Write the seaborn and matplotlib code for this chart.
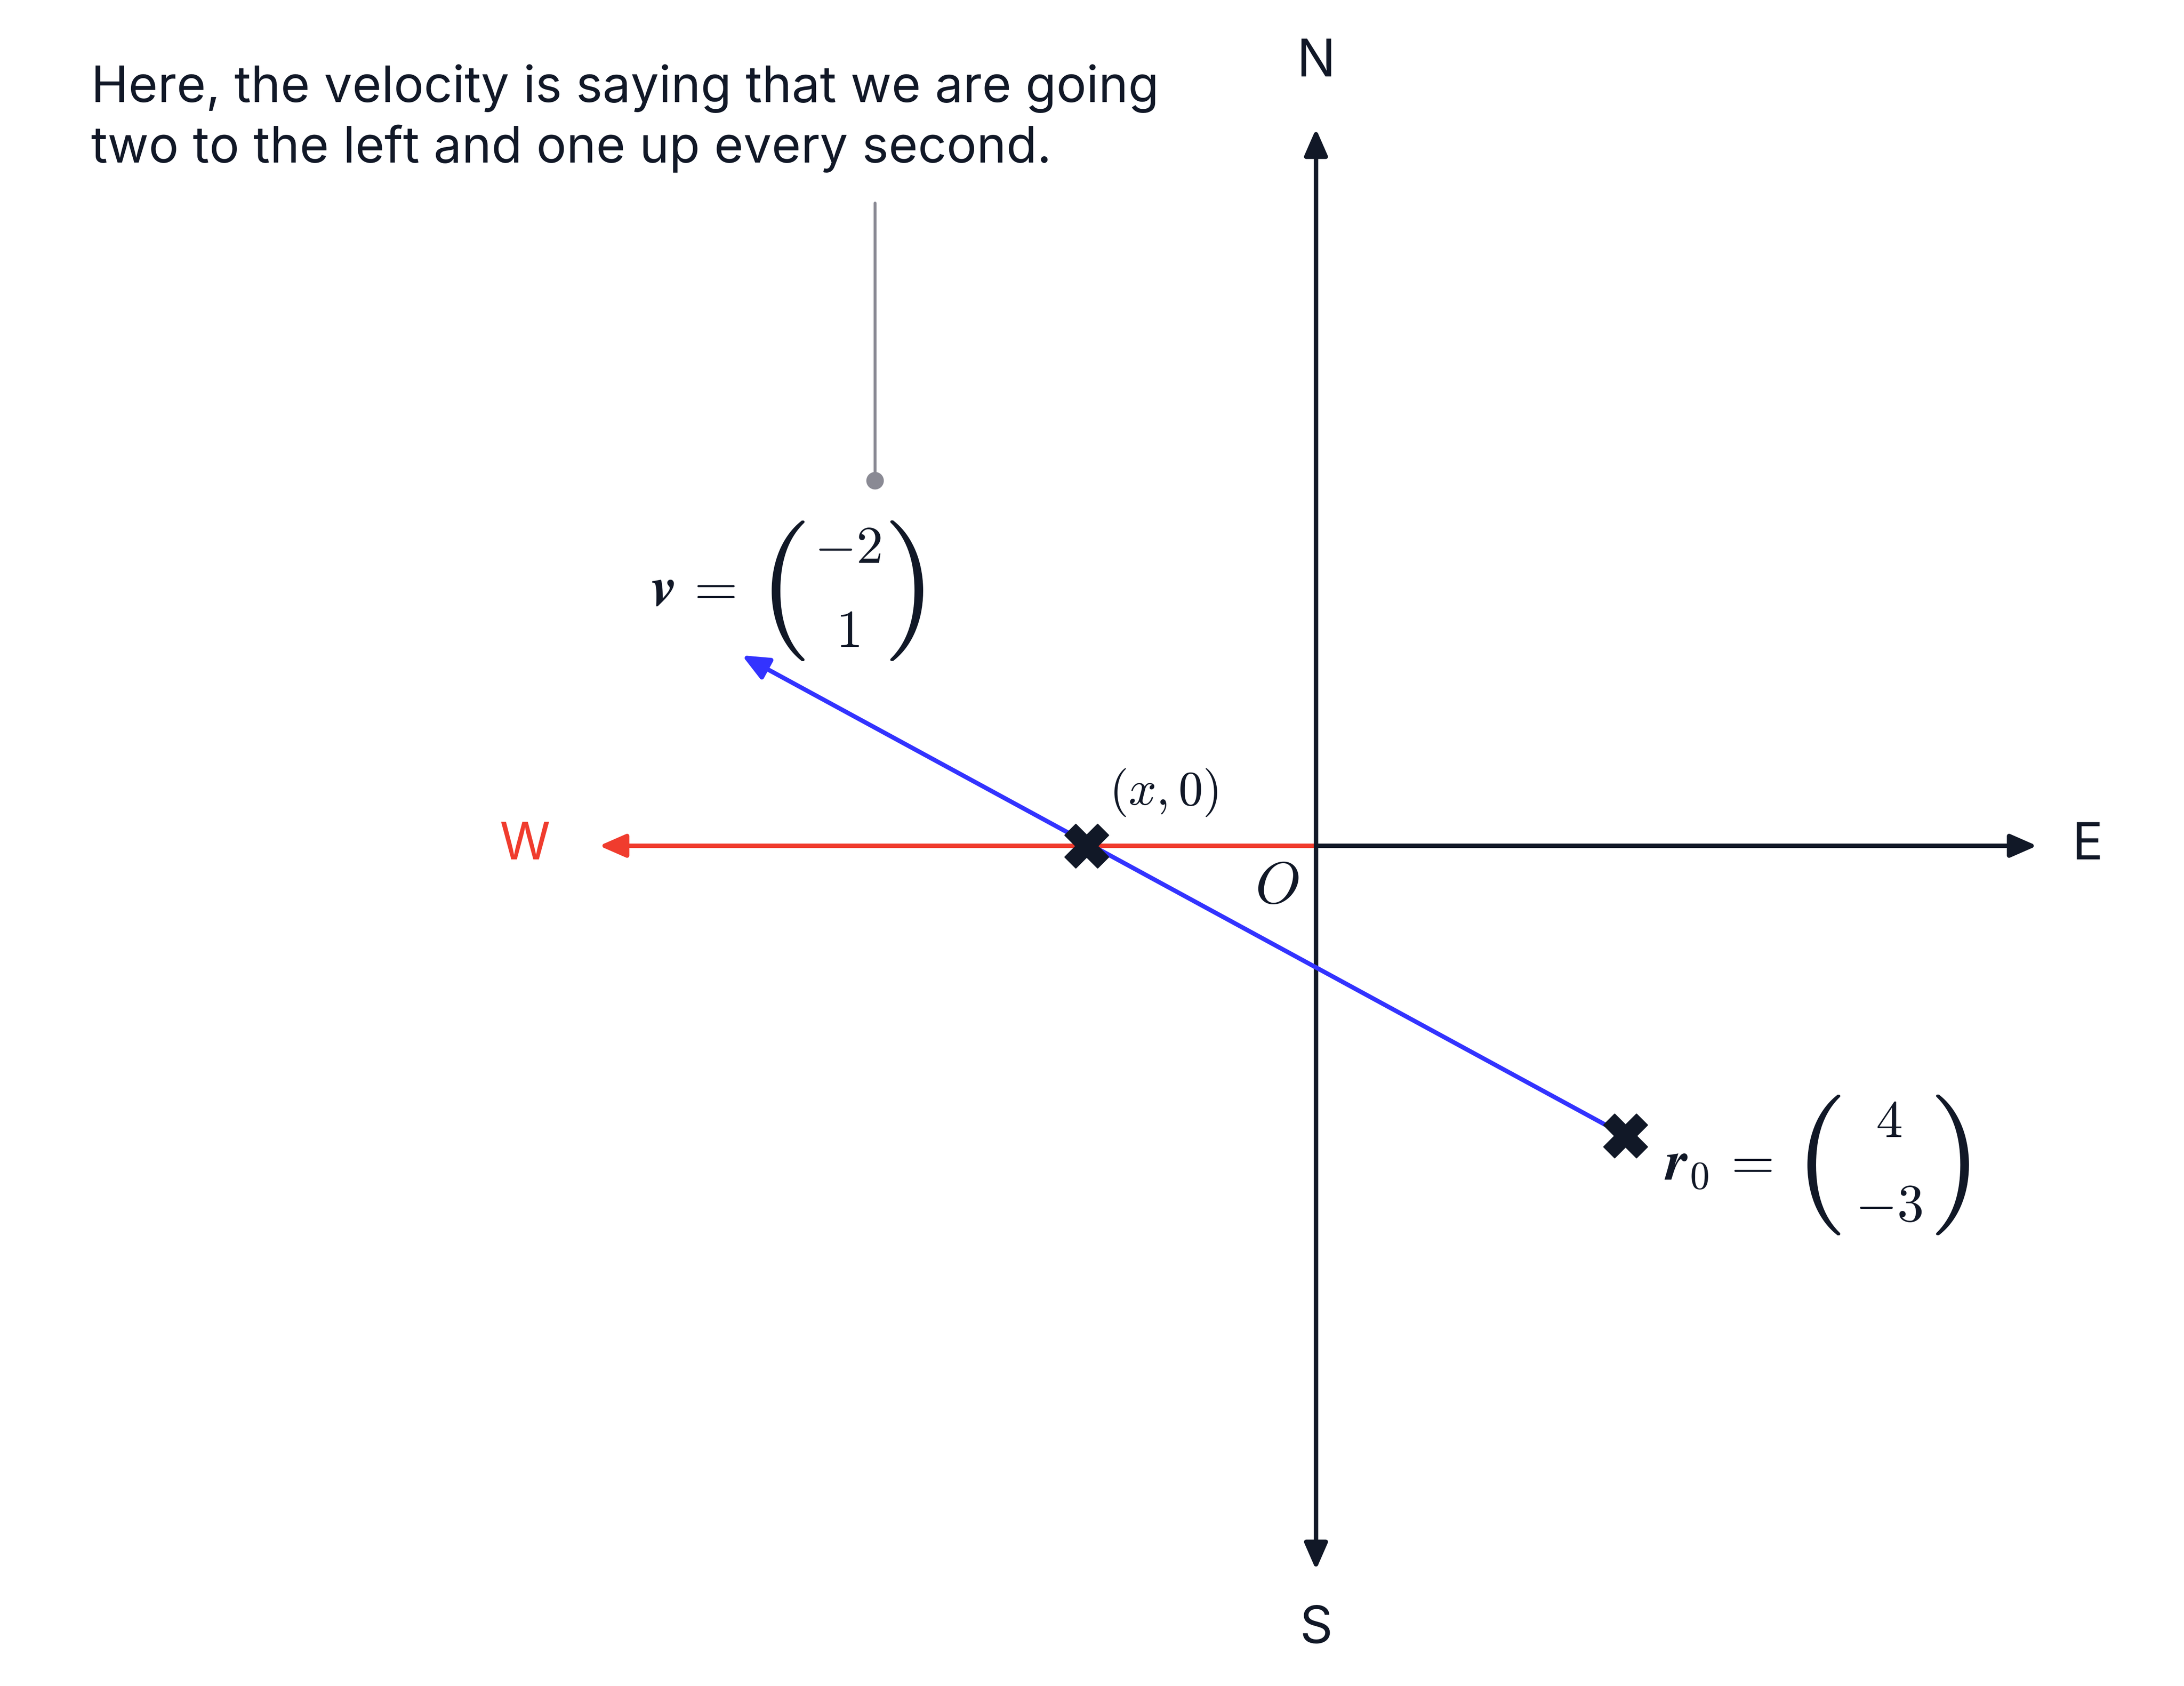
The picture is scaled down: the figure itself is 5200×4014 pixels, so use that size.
import matplotlib
matplotlib.use("Agg")
import matplotlib.pyplot as plt
import seaborn as sns

# schematic coordinates (origin at O, y up)
east_end = 515
west_end = -512
north_end = 512
south_end = -517
r0_point = (221, -207)
cross_point = (-164, 0)
v_tip = (-410, 136)
v_entries = ["-2", "1"]
r0_entries = ["4", "-3"]
callout_x = -315
callout_top = 459
callout_bottom = 261
note_text = "Here, the velocity is saying that we are going\ntwo to the left and one up every second."

sns.set_theme(style="white")
plt.rcParams["font.family"] = ["Inter", "DejaVu Sans"]
plt.rcParams["mathtext.fontset"] = "cm"

ink = "#111827"
red = "#f03c2e"
blue = "#3333ff"
gray = "#8a8a94"

fig = plt.figure(figsize=(26, 20.07), dpi=200)
ax = fig.add_axes([0, 0, 1, 1])
ax.set_xlim(-940, 620)
ax.set_ylim(-600, 604)
ax.axis("off")

arrow_kw = dict(arrowstyle="-|>,head_length=1.6,head_width=0.7", lw=3.8, shrinkA=0, shrinkB=0)
ax.annotate("", xy=(east_end, 0), xytext=(0, 0), arrowprops=dict(color=ink, **arrow_kw))
ax.annotate("", xy=(west_end, 0), xytext=(0, 0), arrowprops=dict(color=red, **arrow_kw))
ax.annotate("", xy=(0, north_end), xytext=(0, 0), arrowprops=dict(color=ink, **arrow_kw))
ax.annotate("", xy=(0, south_end), xytext=(0, 0), arrowprops=dict(color=ink, **arrow_kw))
ax.annotate("", xy=v_tip, xytext=r0_point, arrowprops=dict(color=blue, **arrow_kw))

sns.scatterplot(x=[cross_point[0], r0_point[0]], y=[cross_point[1], r0_point[1]],
                marker="X", s=1400, color=ink, edgecolor=ink, linewidth=1, ax=ax, zorder=5)

ax.text(east_end + 25, 0, "E", fontsize=44, color=ink, ha="left", va="center")
ax.text(west_end - 35, 0, "W", fontsize=44, color=red, ha="right", va="center")
ax.text(0, north_end + 30, "N", fontsize=44, color=ink, ha="center", va="bottom")
ax.text(0, south_end - 25, "S", fontsize=44, color=ink, ha="center", va="top")
ax.text(-28, -30, r"$O$", fontsize=50, color=ink, ha="center", va="center")
ax.text(cross_point[0] + 55, 38, r"$(x,0)$", fontsize=42, color=ink, ha="center", va="center")


def column_vector(label, x_label, x_left, x_right, y_mid, entries):
    ax.text(x_label, y_mid, label, fontsize=48, color=ink, ha="left", va="center")
    ax.text(x_left, y_mid, r"$($", fontsize=120, color=ink, ha="center", va="center")
    ax.text(x_right, y_mid, r"$)$", fontsize=120, color=ink, ha="center", va="center")
    xc = (x_left + x_right) / 2
    ax.text(xc + 4, y_mid + 30, "$%s$" % entries[0], fontsize=46, color=ink, ha="center", va="center")
    ax.text(xc + 4, y_mid - 30, "$%s$" % entries[1], fontsize=46, color=ink, ha="center", va="center")


column_vector(r"$\boldsymbol{v}\,=$", -475, -382, -295, 182, v_entries)
column_vector(r"$\boldsymbol{r}_0\,=$", 249, 358, 452, -228, r0_entries)

ax.plot([callout_x, callout_x], [callout_top, callout_bottom], color=gray, lw=2.5)
ax.plot([callout_x], [callout_bottom], "o", color=gray, ms=14)
ax.text(-875, 558, note_text, fontsize=43, color=ink, ha="left", va="top", linespacing=1.3)

fig.savefig("out.png", dpi=200)
